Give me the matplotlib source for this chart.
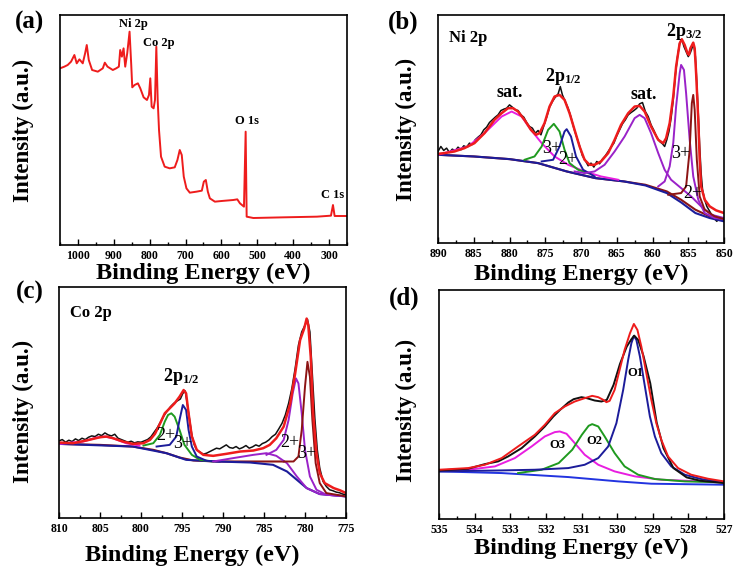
import matplotlib
matplotlib.use('Agg')
from matplotlib import pyplot as plt
from matplotlib.ticker import MultipleLocator

plt.rcParams['font.family'] = ['Liberation Serif', 'DejaVu Serif']
plt.rcParams['font.weight'] = 'bold'
plt.rcParams['mathtext.fontset'] = 'custom'
plt.rcParams['mathtext.rm'] = 'Liberation Serif:bold'
plt.rcParams['mathtext.it'] = 'Liberation Serif:bold:italic'
plt.rcParams['mathtext.bf'] = 'Liberation Serif:bold'

#data - (a) survey
a_e = [1050, 1037.9, 1028.6, 1019.2, 1009.9, 1003.4, 995.9, 986.6, 980, 975.4, 969.8, 960.5, 944.6, 930.7,
       925.1, 917.6, 902.7, 893.4, 885.9, 882.2, 877.5, 872.8, 868.2, 862.6, 856.1, 851.4, 848.6, 842.1,
       832.8, 826.2, 816.9, 807.6, 802, 798.3, 794.5, 789.1, 785.2, 781.5, 777.7, 774, 768.4, 758.2,
       744.2, 730.2, 722.7, 716.2, 710.6, 705, 697.6, 688.2, 669.6, 654.7, 649.1, 643.5, 637.9, 632.3,
       618.3, 599.7, 567, 555.8, 548.4, 537.2, 532.5, 529.7, 511.1, 427, 333.9, 294.7, 289.1, 284.5, 250]
a_i = [530, 535, 540, 550, 570, 545, 557, 545, 575, 600, 555, 525, 520, 530,
       547, 535, 525, 530, 535, 585, 565, 590, 535, 575, 640, 540, 473, 480,
       485, 470, 443, 435, 450, 500, 415, 410, 435, 595, 435, 345, 265, 235,
       230, 233, 255, 285, 270, 205, 170, 157, 160, 163, 190, 195, 160, 140,
       130, 132, 135, 137, 125, 115, 340, 85, 81, 83, 85, 88, 120, 87, 87]

#data - (b) Ni 2p
b_black_e = [890.0, 889.6, 889.2, 888.8, 888.4, 888.0, 887.6, 887.2, 886.8, 886.4, 886.0, 885.6, 885.2, 884.8,
             884.4, 884.0, 883.6, 883.2, 882.8, 882.4, 882.0, 881.6, 881.2, 880.8, 880.4, 880.0, 879.6, 879.2,
             878.8, 878.4, 878.0, 877.6, 877.2, 876.8, 876.4, 876.0, 875.6, 875.2, 874.8, 874.4, 874.0, 873.6,
             873.2, 872.9, 872.6, 872.2, 871.8, 871.4, 871.0, 870.6, 870.2, 869.8, 869.4, 869.0, 868.6, 868.2,
             867.8, 867.4, 867.0, 866.6, 866.2, 865.8, 865.4, 865.0, 864.6, 864.2, 863.8, 863.4, 863.0, 862.6,
             862.2, 861.8, 861.4, 861.0, 860.6, 860.2, 859.8, 859.4, 859.0, 858.6, 858.3, 858.0, 857.7, 857.4,
             857.1, 856.8, 856.5, 856.2, 855.9, 855.6, 855.3, 855.0, 854.7, 854.4, 854.2, 854.0, 853.8, 853.6,
             853.4, 853.2, 853.0, 852.7, 852.4, 852.0, 851.6, 851.3, 851.0, 850.7, 850.4, 850.0]
b_black_i = [275, 290, 278, 285, 272, 282, 277, 288, 280, 292, 288, 300, 296, 310,
             318, 325, 340, 348, 362, 370, 378, 385, 398, 402, 405, 415, 408, 400,
             398, 385, 378, 362, 350, 345, 330, 338, 325, 352, 378, 408, 425, 438,
             448, 470, 445, 425, 405, 378, 345, 318, 292, 262, 248, 232, 240, 228,
             245, 238, 252, 262, 275, 288, 300, 322, 340, 358, 370, 385, 392, 398,
             405, 418, 422, 395, 380, 355, 338, 318, 305, 298, 290, 310, 335, 375,
             430, 505, 560, 600, 612, 590, 575, 560, 572, 590, 592, 560, 480, 390,
             290, 210, 160, 130, 110, 95, 80, 72, 65, 78, 68, 70]
b_red_e = [890, 889.1, 887.7, 886.3, 884.9, 883.5, 882.1, 881.1, 880.2, 879.5, 878.8, 877.9, 877.0, 876.3,
           875.8, 875.1, 874.4, 873.7, 873.0, 872.3, 871.6, 870.9, 870.2, 869.5, 868.8, 868.1, 867.2, 866.2,
           865.3, 864.4, 863.4, 862.5, 861.8, 861.1, 860.2, 859.2, 858.5, 858.1, 857.6, 857.1, 856.7, 856.2,
           855.9, 855.5, 855.1, 854.9, 854.7, 854.3, 854.1, 853.9, 853.6, 853.4, 853.2, 852.7, 852.0, 851.1, 850]
b_red_i = [268, 270, 275, 285, 300, 330, 370, 390, 405, 405, 395, 370, 340, 325,
           330, 360, 410, 440, 445, 430, 390, 340, 290, 250, 235, 235, 245, 270,
           310, 355, 390, 410, 412, 395, 350, 310, 300, 315, 360, 440, 530, 600,
           612, 595, 570, 565, 585, 602, 585, 510, 370, 250, 170, 130, 110, 98, 90]
b_bg_e = [890, 885, 880, 876, 872, 868, 864, 861, 858, 856, 854, 852, 850]
b_bg_i = [265, 260, 252, 240, 215, 195, 185, 175, 155, 130, 100, 80, 72]
b_bg2_i = [265, 260, 252, 240, 215, 195, 185, 173, 150, 122, 90, 75, 65]
b_sat1_e = [890, 885.8, 883.5, 881.1, 879.7, 878.3, 877.0, 875.5, 873.7, 871.8, 869.5, 867.2, 864.8]
b_sat1_i = [265, 290, 330, 380, 395, 380, 340, 300, 260, 235, 215, 200, 190]
b_n3a_e = [877.9, 876.5, 875.5, 874.6, 873.8, 873.0, 872.3, 871.6, 870.4, 869.0]
b_n3a_i = [250, 260, 290, 340, 358, 335, 280, 240, 220, 210]
b_n2a_e = [875.5, 873.9, 873.0, 872.3, 872.0, 871.4, 870.7, 869.7, 868.1]
b_n2a_i = [245, 250, 290, 335, 342, 320, 260, 220, 200]
b_sat2_e = [870.9, 869.5, 868.1, 866.7, 865.3, 863.9, 862.5, 861.8, 861.1, 860.2, 859.2, 858.3, 857.4,
            856.0, 854.6, 853.2, 851.8, 850]
b_sat2_i = [215, 210, 215, 235, 275, 320, 375, 385, 375, 330, 270, 220, 190, 165, 140, 110, 85, 75]
b_n3b_e = [859.2, 858.3, 857.6, 857.1, 856.7, 856.2, 856.0, 855.6, 855.3, 854.8, 854.3, 853.6, 852.7, 851.3, 850]
b_n3b_i = [170, 185, 230, 300, 410, 510, 535, 520, 450, 310, 200, 130, 90, 75, 72]
b_n2b_e = [857.8, 856.0, 855.3, 854.8, 854.5, 854.3, 854.1, 853.8, 853.4, 852.7, 851.3, 850]
b_n2b_i = [145, 150, 170, 280, 420, 445, 400, 250, 140, 100, 80, 72]

#data - (c) Co 2p
c_black_e = [810.0, 809.6, 809.2, 808.8, 808.4, 808.0, 807.6, 807.2, 806.8, 806.4, 806.0, 805.6, 805.2, 804.8,
             804.4, 804.0, 803.6, 803.2, 802.8, 802.4, 802.0, 801.6, 801.2, 800.8, 800.4, 800.0, 799.6, 799.2,
             798.8, 798.4, 798.0, 797.6, 797.2, 796.8, 796.4, 796.0, 795.6, 795.2, 794.9, 794.6, 794.4, 794.1,
             793.8, 793.5, 793.2, 792.8, 792.4, 792.0, 791.6, 791.2, 790.8, 790.4, 790.0, 789.6, 789.2, 788.8,
             788.4, 788.0, 787.6, 787.2, 786.8, 786.4, 786.0, 785.6, 785.2, 784.8, 784.4, 784.0, 783.6, 783.2,
             782.8, 782.4, 782.0, 781.6, 781.2, 780.8, 780.4, 780.0, 779.7, 779.4, 779.1, 778.8, 778.5, 778.2,
             777.8, 777.4, 777.0, 776.6, 776.2, 775.8, 775.4, 775.0]
c_black_i = [232, 236, 228, 234, 230, 238, 233, 240, 236, 243, 247, 245, 252, 248,
             256, 250, 247, 252, 240, 236, 232, 228, 231, 226, 229, 228, 232, 236,
             244, 258, 272, 290, 308, 322, 335, 345, 352, 358, 375, 382, 350, 300,
             250, 220, 205, 198, 192, 195, 200, 205, 210, 208, 214, 220, 212, 210,
             215, 208, 212, 218, 210, 214, 220, 216, 224, 228, 235, 245, 252, 268,
             285, 310, 345, 390, 450, 520, 560, 580, 598, 560, 430, 300, 205, 150,
             110, 95, 85, 82, 78, 76, 72, 70]
c_red_e = [810, 808.3, 806.7, 805.0, 804.2, 803.4, 802.2, 801.0, 799.7, 798.9, 798.3, 797.7, 797.1, 796.5,
           795.9, 795.3, 794.8, 794.5, 794.2, 793.8, 793.2, 792.4, 791.2, 789.6, 787.9, 786.3, 785.1, 784.3,
           783.5, 782.6, 781.8, 781.2, 780.6, 780.1, 779.8, 779.6, 779.3, 779.0, 778.6, 778.2, 777.6, 776.5,
           775.7, 775]
c_red_i = [227, 225, 233, 243, 245, 240, 230, 223, 225, 235, 253, 283, 315, 330,
           345, 365, 385, 375, 315, 245, 205, 190, 187, 193, 200, 203, 210, 220,
           240, 275, 345, 435, 535, 570, 600, 580, 485, 315, 195, 135, 105, 90,
           83, 75]
c_bg_e = [810, 805, 801, 798.5, 796.9, 795.3, 793.6, 790.8, 786.7, 782.6]
c_bg_i = [223, 220, 215, 205, 195, 182, 173, 170, 170, 170]
c_bgb_e = [810, 801, 796.9, 794.5, 790.8, 786.7, 783.9, 782.2, 781.0, 779.8, 778.2, 775]
c_bgb_i = [223, 215, 195, 175, 170, 167, 160, 140, 115, 90, 72, 65]
c_sat_e = [810, 807.1, 805.4, 804.4, 803.4, 801.8, 800.2]
c_sat_i = [223, 230, 242, 245, 240, 225, 218]
c_c2a_e = [799.7, 798.5, 797.7, 797.1, 796.7, 796.3, 795.9, 795.3, 794.7, 793.8, 792.8, 791.2]
c_c2a_i = [218, 225, 250, 290, 310, 315, 305, 265, 220, 190, 175, 170]
c_c3a_e = [798.1, 796.5, 795.7, 795.3, 794.9, 794.5, 794.2, 793.8, 793.2, 792.0, 790.4]
c_c3a_i = [215, 220, 245, 295, 340, 325, 265, 215, 185, 172, 170]
c_sat2_e = [791.2, 788.8, 786.3, 784.7, 783.5, 782.2, 781.0, 779.8, 778.2, 775]
c_sat2_i = [170, 180, 190, 195, 187, 165, 125, 90, 72, 65]
c_c2b_e = [784.7, 783.5, 782.6, 782.0, 781.5, 781.1, 780.8, 780.4, 780.0, 779.4, 778.6, 777.4, 775]
c_c2b_i = [190, 205, 235, 295, 375, 420, 405, 315, 205, 125, 85, 70, 65]
c_c3b_e = [782.6, 781.4, 780.8, 780.4, 780.0, 779.7, 779.4, 779.1, 778.7, 778.2, 777.4, 775]
c_c3b_i = [170, 170, 185, 265, 395, 470, 425, 295, 165, 105, 75, 65]

#data - (d) O 1s
d_black_e = [535, 534.18, 533.71, 533.34, 533.06, 532.68, 532.31, 532.03, 531.79, 531.60, 531.37, 531.22,
             531.0, 530.85, 530.63, 530.44, 530.29, 530.10, 529.92, 529.73, 529.60, 529.52, 529.41, 529.26,
             529.07, 528.89, 528.70, 528.42, 528.05, 527.67, 527]
d_black_i = [146, 151, 165, 173, 188, 213, 248, 278, 308, 328, 350, 360,
             366, 363, 356, 353, 358, 403, 466, 518, 540, 551, 538, 490,
             408, 290, 213, 153, 125, 115, 108]
d_red_e = [535, 534.18, 533.71, 533.24, 532.78, 532.31, 532.03, 531.75, 531.47, 531.19, 530.91, 530.70,
           530.53, 530.39, 530.30, 530.21, 530.07, 529.93, 529.79, 529.64, 529.53, 529.43, 529.32, 529.18,
           529.04, 528.90, 528.76, 528.57, 528.29, 527.92, 527.45, 527]
d_red_i = [148, 153, 163, 183, 218, 253, 283, 318, 338, 353, 363, 370,
           366, 358, 351, 355, 388, 448, 508, 558, 586, 568, 518, 438,
           358, 288, 238, 188, 153, 133, 121, 113]
d_o1_e = [535, 533.24, 532.31, 531.37, 530.91, 530.53, 530.25, 530.02, 529.83, 529.69, 529.60, 529.53,
          529.46, 529.36, 529.22, 529.08, 528.94, 528.76, 528.48, 528.10, 527.64, 527]
d_o1_i = [143, 146, 148, 153, 163, 183, 218, 288, 388, 478, 528, 550,
          538, 488, 398, 308, 248, 198, 158, 133, 120, 110]
d_o2_e = [532.78, 532.12, 531.64, 531.26, 530.99, 530.80, 530.70, 530.53, 530.35, 530.07, 529.79, 529.41,
          528.94, 528.10, 527]
d_o2_i = [138, 148, 168, 208, 253, 280, 285, 278, 248, 198, 158, 133, 120, 113, 110]
d_o3_e = [535, 534.18, 533.43, 532.87, 532.40, 532.03, 531.75, 531.61, 531.42, 531.19, 530.91, 530.53,
          530.07, 529.50, 528.76, 527.64, 527]
d_o3_i = [146, 148, 158, 183, 218, 248, 261, 263, 256, 228, 193, 163, 143, 128, 118, 113, 110]
d_bg_e = [535, 533.24, 531.37, 529.97, 529.04, 527]
d_bg_i = [143, 138, 126, 113, 106, 103]

red = '#ee1c1c'
black = '#111111'
magenta = '#e81ee0'
green = '#1f9a1f'
navy = '#1c1c9a'
purple = '#9a22c8'
brown = '#8c1414'
blue = '#2234e0'

fig = plt.figure(figsize=(7.36, 5.73), dpi=100)
W, H = 736.0, 573.0

def make_ax(l, r, t, b):
    return fig.add_axes([l / W, 1 - b / H, (r - l) / W, (b - t) / H])

def style(ax, x0, x1, ymax, major, minor):
    ax.set_xlim(x0, x1)
    ax.set_ylim(0, ymax)
    ax.xaxis.set_major_locator(MultipleLocator(major))
    ax.xaxis.set_minor_locator(MultipleLocator(minor))
    ax.tick_params(axis='x', which='both', direction='in', top=False, labelsize=8.5)
    ax.tick_params(axis='x', which='major', length=4, width=1)
    ax.tick_params(axis='x', which='minor', length=2.5, width=1)
    ax.tick_params(axis='y', left=False, labelleft=False)
    for s in ax.spines.values():
        s.set_linewidth(1.2)
    for t in ax.get_xticklabels():
        t.set_fontweight('bold')

ax1 = make_ax(60, 347, 15, 245)
ax2 = make_ax(438, 724, 15, 243)
ax3 = make_ax(59, 346, 287, 518)
ax4 = make_ax(439, 724, 290, 519)

# (a)
ax1.plot(a_e, a_i, color=red, lw=1.4)
style(ax1, 1050, 250, 690, 100, 50)
ax1.text(845, 663, 'Ni 2p', fontsize=9, ha='center', va='center')
ax1.text(774, 607, 'Co 2p', fontsize=9, ha='center', va='center')
ax1.text(528, 373, 'O 1s', fontsize=9, ha='center', va='center')
ax1.text(290, 150, 'C 1s', fontsize=9, ha='center', va='center')

# (b)
ax2.plot(b_black_e, b_black_i, color=black, lw=1.1)
ax2.plot(b_bg_e, b_bg_i, color=brown, lw=1.5)
ax2.plot(b_bg_e, b_bg2_i, color=navy, lw=1.5)
ax2.plot(b_sat1_e, b_sat1_i, color=magenta, lw=1.4)
ax2.plot(b_n3a_e, b_n3a_i, color=green, lw=1.4)
ax2.plot(b_n2a_e, b_n2a_i, color=navy, lw=1.4)
ax2.plot(b_sat2_e, b_sat2_i, color=purple, lw=1.4)
ax2.plot(b_n3b_e, b_n3b_i, color=purple, lw=1.4)
ax2.plot(b_n2b_e, b_n2b_i, color=brown, lw=1.4)
ax2.plot(b_red_e, b_red_i, color=red, lw=1.8)
style(ax2, 890, 850, 685, 5, 2.5)
ax2.text(888.4, 615, 'Ni 2p', fontsize=12, ha='left', va='center')
ax2.text(880, 452, 'sat.', fontsize=13, ha='center', va='center')
ax2.text(861.2, 447, 'sat.', fontsize=13, ha='center', va='center')
ax2.text(872.5, 500, '2p$_{1/2}$', fontsize=13, ha='center', va='center')
ax2.text(855.5, 635, '2p$_{3/2}$', fontsize=13, ha='center', va='center')
ax2.text(874.1, 285, '3+', fontsize=13, fontweight='normal', ha='center', va='center')
ax2.text(871.8, 252, '2+', fontsize=13, fontweight='normal', ha='center', va='center')
ax2.text(856.1, 268, '3+', fontsize=13, fontweight='normal', ha='center', va='center')
ax2.text(854.3, 148, '2+', fontsize=13, fontweight='normal', ha='center', va='center')

# (c)
ax3.plot(c_black_e, c_black_i, color=black, lw=1.1)
ax3.plot(c_bg_e, c_bg_i, color=brown, lw=1.5)
ax3.plot(c_bgb_e, c_bgb_i, color=navy, lw=1.5)
ax3.plot(c_sat_e, c_sat_i, color=magenta, lw=1.5)
ax3.plot(c_c2a_e, c_c2a_i, color=green, lw=1.4)
ax3.plot(c_c3a_e, c_c3a_i, color=navy, lw=1.4)
ax3.plot(c_sat2_e, c_sat2_i, color=purple, lw=1.4)
ax3.plot(c_c2b_e, c_c2b_i, color=purple, lw=1.4)
ax3.plot(c_c3b_e, c_c3b_i, color=brown, lw=1.4)
ax3.plot(c_red_e, c_red_i, color=red, lw=1.8)
style(ax3, 810, 775, 695, 5, 2.5)
ax3.text(808.7, 618, 'Co 2p', fontsize=12, ha='left', va='center')
ax3.text(795.1, 425, '2p$_{1/2}$', fontsize=13, ha='center', va='center')
ax3.text(797.0, 247, '2+', fontsize=13, fontweight='normal', ha='center', va='center')
ax3.text(794.9, 223, '3+', fontsize=13, fontweight='normal', ha='center', va='center')
ax3.text(781.8, 228, '2+', fontsize=13, fontweight='normal', ha='center', va='center')
ax3.text(779.8, 195, '3+', fontsize=13, fontweight='normal', ha='center', va='center')

# (d)
ax4.plot(d_bg_e, d_bg_i, color=blue, lw=1.4)
ax4.plot(d_o3_e, d_o3_i, color=magenta, lw=1.4)
ax4.plot(d_o2_e, d_o2_i, color=green, lw=1.4)
ax4.plot(d_o1_e, d_o1_i, color=navy, lw=1.4)
ax4.plot(d_black_e, d_black_i, color=black, lw=1.4)
ax4.plot(d_red_e, d_red_i, color=red, lw=1.4)
style(ax4, 535, 527, 688, 1, 0.5)
ax4.text(529.5, 440, 'O1', fontsize=9, ha='center', va='center')
ax4.text(530.65, 235, 'O2', fontsize=9, ha='center', va='center')
ax4.text(531.68, 221, 'O3', fontsize=9, ha='center', va='center')

# axis labels
for ax, xl, yl in [(ax1, -0.122, -0.129), (ax2, -0.136, -0.112), (ax3, -0.16, -0.125), (ax4, -0.127, -0.116)]:
    ax.set_xlabel('Binding Energy (eV)', fontsize=17.5, fontweight='bold', va='center')
    ax.xaxis.set_label_coords(0.5, xl)
    ax.set_ylabel('Intensity (a.u.)', fontsize=16.5, fontweight='bold', va='center')
    ax.yaxis.set_label_coords(yl, 0.5)
ax3.xaxis.set_label_coords(0.463, -0.16)
ax3.yaxis.set_label_coords(-0.125, 0.46)
ax4.yaxis.set_label_coords(-0.116, 0.476)

# panel letters
fig.text(29 / W, 1 - 22 / H, '(a)', fontsize=18, fontweight='bold', ha='center', va='center')
fig.text(403 / W, 1 - 22 / H, '(b)', fontsize=18, fontweight='bold', ha='center', va='center')
fig.text(30 / W, 1 - 292 / H, '(c)', fontsize=18, fontweight='bold', ha='center', va='center')
fig.text(404 / W, 1 - 298 / H, '(d)', fontsize=18, fontweight='bold', ha='center', va='center')

fig.savefig('out.png', dpi=100)
